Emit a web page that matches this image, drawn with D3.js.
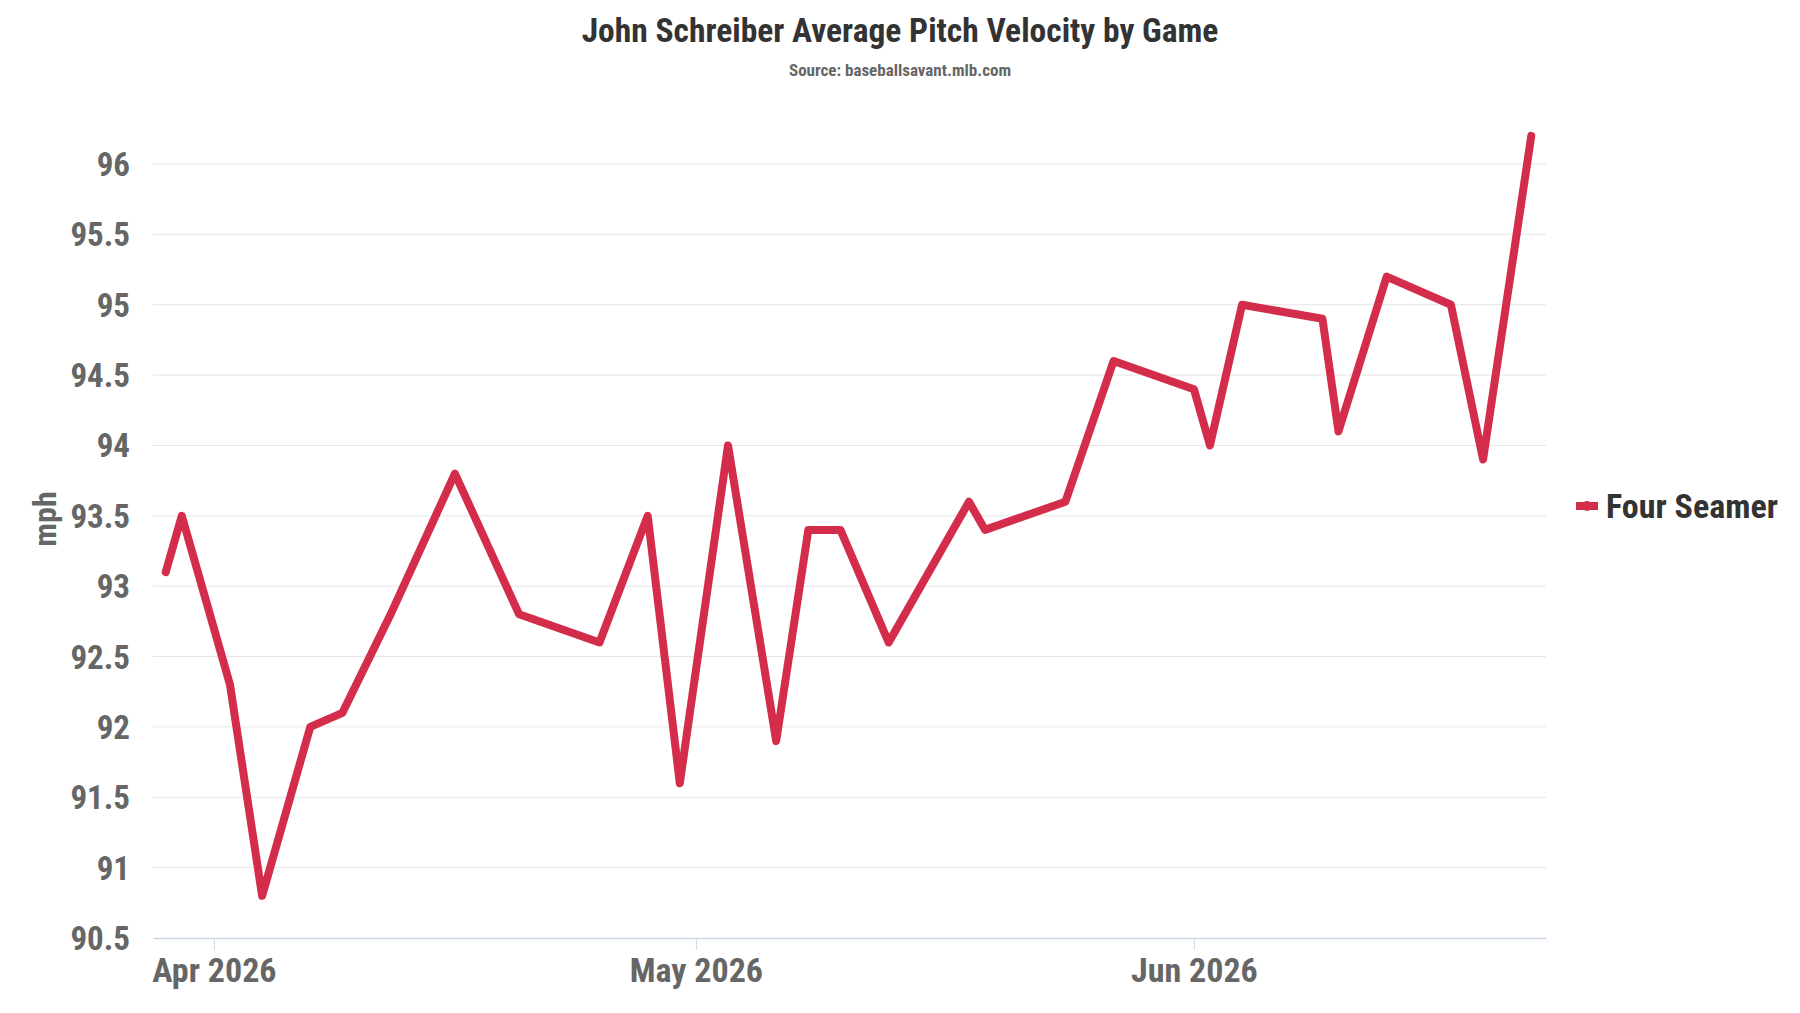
<!DOCTYPE html>
<html>
<head>
<meta charset="utf-8">
<script src="https://cdn.jsdelivr.net/npm/d3@7"></script>
<style>
  html, body { margin:0; padding:0; background:#fff; }
  text { font-family: "Roboto Condensed", "Liberation Sans Narrow", Roboto, sans-serif; font-weight:bold; }
</style>
</head>
<body>
<div id="chart"></div>
<script>
// game dates + avg four seamer velo
const gameDates = [
  "2026-03-29","2026-03-30","2026-04-02","2026-04-04","2026-04-07","2026-04-09",
  "2026-04-12","2026-04-16","2026-04-20","2026-04-25","2026-04-28","2026-04-30",
  "2026-05-03","2026-05-06","2026-05-08","2026-05-10","2026-05-13","2026-05-18",
  "2026-05-19","2026-05-24","2026-05-27","2026-06-01","2026-06-02","2026-06-04",
  "2026-06-09","2026-06-10","2026-06-13","2026-06-17","2026-06-19","2026-06-22"
];
const fourSeamer = [
  93.1, 93.5, 92.3, 90.8, 92.0, 92.1,
  92.8, 93.8, 92.8, 92.6, 93.5, 91.6,
  94.0, 91.9, 93.4, 93.4, 92.6, 93.6,
  93.4, 93.6, 94.6, 94.4, 94.0, 95.0,
  94.9, 94.1, 95.2, 95.0, 93.9, 96.2
];
const yTicks = [90.5, 91, 91.5, 92, 92.5, 93, 93.5, 94, 94.5, 95, 95.5, 96];
const xTicks = ["2026-04-01", "2026-05-01", "2026-06-01"];

const width = 1800, height = 1013;
const margin = {top:164, right:254, bottom:75, left:153};
const lineColor = "#d42d4c";

const parse = d3.timeParse("%Y-%m-%d");
const data = gameDates.map((d,i) => ({date: parse(d), v: fourSeamer[i]}));

const svg = d3.select("#chart").append("svg")
  .attr("width", width)
  .attr("height", height);

// titles
svg.append("text")
  .attr("x", 900).attr("y", 42)
  .attr("text-anchor","middle")
  .attr("fill","#333")
  .style("font-size","33.5px")
  .text("John Schreiber Average Pitch Velocity by Game");
svg.append("text")
  .attr("x", 900).attr("y", 76)
  .attr("text-anchor","middle")
  .attr("fill","#666")
  .style("font-size","17px")
  .text("Source: baseballsavant.mlb.com");

const x = d3.scaleTime()
  .domain([d3.timeHour.offset(parse("2026-03-28"), 5), d3.timeHour.offset(parse("2026-06-22"), 22)])
  .range([margin.left, width - margin.right]);
const y = d3.scaleLinear()
  .domain([90.5, 96])
  .range([height - margin.bottom, margin.top]);

// grid
svg.append("g")
  .selectAll("line")
  .data(yTicks.slice(1))
  .enter().append("line")
  .attr("x1", margin.left).attr("x2", width - margin.right)
  .attr("y1", d => y(d)).attr("y2", d => y(d))
  .attr("stroke","#e6e6e6")
  .attr("stroke-width",1);

// y labels
svg.append("g")
  .selectAll("text")
  .data(yTicks)
  .enter().append("text")
  .attr("x", 130)
  .attr("y", d => y(d) + 12)
  .attr("text-anchor","end")
  .attr("fill","#666")
  .style("font-size","33px")
  .text(d => d);

svg.append("text")
  .attr("transform", `translate(56,519) rotate(-90)`)
  .attr("text-anchor","middle")
  .attr("fill","#666")
  .style("font-size","32px")
  .text("mph");

// x axis
const xAxis = svg.append("g")
  .attr("transform", `translate(0,${height - margin.bottom})`)
  .call(d3.axisBottom(x)
    .tickValues(xTicks.map(parse))
    .tickSize(12)
    .tickSizeOuter(0)
    .tickPadding(8)
    .tickFormat(d3.timeFormat("%b %Y")));
xAxis.select(".domain").attr("stroke","#ccd6eb").attr("stroke-width",1.5);
xAxis.selectAll(".tick line").attr("stroke","#ccd6eb");
xAxis.selectAll(".tick text")
  .attr("fill","#666")
  .style("font-size","34px")
  .style("font-family", null);

// series line
const line = d3.line()
  .x(d => x(d.date))
  .y(d => y(d.v));

svg.append("path")
  .datum(data)
  .attr("d", line)
  .attr("fill","none")
  .attr("stroke", lineColor)
  .attr("stroke-width", 8)
  .attr("stroke-linejoin","round")
  .attr("stroke-linecap","round");

// legend
const lg = svg.append("g").attr("transform", `translate(1576,506)`);
lg.append("line")
  .attr("x1",0).attr("x2",22).attr("y1",0).attr("y2",0)
  .attr("stroke", lineColor).attr("stroke-width",8);
lg.append("circle").attr("cx",11).attr("cy",0).attr("r",5).attr("fill",lineColor);
lg.append("text")
  .attr("x", 30).attr("y", 12)
  .attr("fill","#333")
  .style("font-size","34px")
  .text("Four Seamer");
</script>
</body>
</html>
